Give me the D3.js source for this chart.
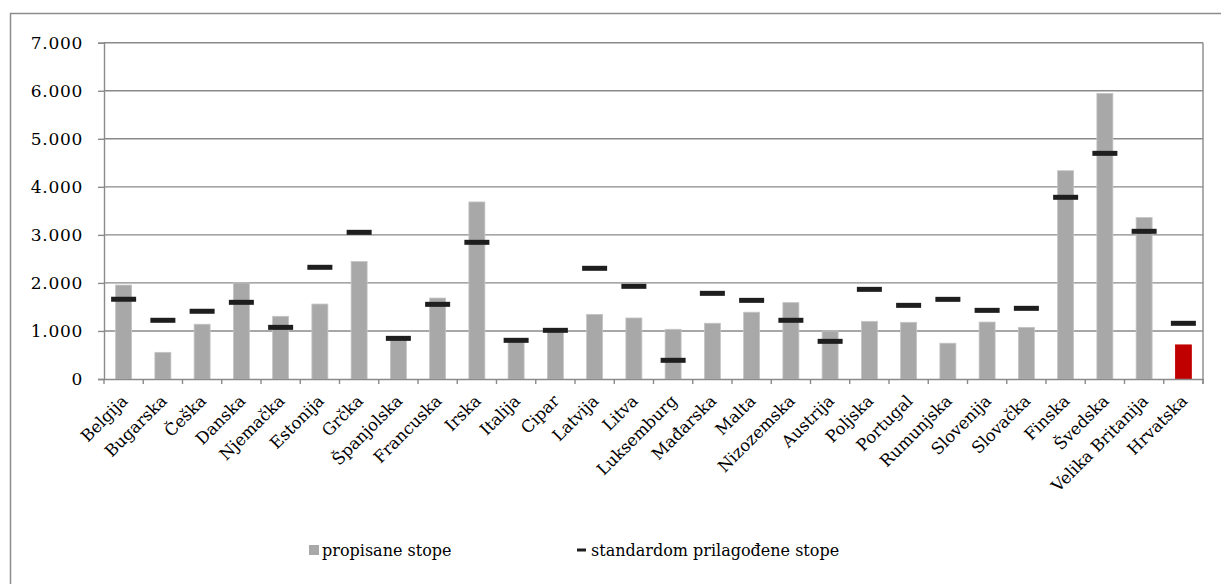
<!DOCTYPE html>
<meta charset="utf-8">
<head>
<style>
  body { margin: 0; background: #fff; }
  text { font-family: "DejaVu Serif", "Liberation Serif", serif; fill: #000; }
</style>
</head>
<body>
<script src="https://d3js.org/d3.v7.min.js"></script>
<script>
var countries = ["Belgija","Bugarska","Češka","Danska","Njemačka","Estonija","Grčka","Španjolska",
  "Francuska","Irska","Italija","Cipar","Latvija","Litva","Luksemburg","Mađarska","Malta",
  "Nizozemska","Austrija","Poljska","Portugal","Rumunjska","Slovenija","Slovačka","Finska",
  "Švedska","Velika Britanija","Hrvatska"];
var propisane = [1955,555,1140,2000,1305,1560,2445,820,1685,3685,780,980,1345,1270,1035,1160,1390,
  1590,1000,1200,1180,745,1185,1075,4335,5945,3360,710];
var prilagodjene = [1660,1222,1410,1596,1075,2325,3053,846,1554,2845,805,1013,2304,1929,389,1783,1637,
  1222,784,1866,1533,1658,1429,1471,3782,4697,3074,1159];
var yTicks = [0,1000,2000,3000,4000,5000,6000,7000];
var legendLabels = ["propisane stope","standardom prilagođene stope"];

var W = 1221, H = 584;
var margin = {top: 42.7, left: 104, right: 18, bottom: 205};

var svg = d3.select("body").append("svg")
  .attr("width", W).attr("height", H);

// outer frame
svg.append("rect")
  .attr("x", 10.5).attr("y", 13.5)
  .attr("width", W).attr("height", H)
  .attr("fill", "none").attr("stroke", "#8c8c8c").attr("stroke-width", 1.5);

var x = d3.scaleBand().domain(countries).range([margin.left, 1203]).paddingInner(0).paddingOuter(0);
var y = d3.scaleLinear().domain([0, 7000]).range([379, margin.top]);

var fmt = function(v){ return v === 0 ? "0" : d3.format(",")(v).replace(/,/g, "."); };

// gridlines
svg.append("g").selectAll("line").data(yTicks.filter(function(d){return d > 0;}))
  .join("line")
  .attr("x1", margin.left).attr("x2", 1203)
  .attr("y1", function(d){return y(d);}).attr("y2", function(d){return y(d);})
  .attr("stroke", "#8a8a8a").attr("stroke-width", 1.4);

// right border of plot
svg.append("line")
  .attr("x1", 1203).attr("x2", 1203).attr("y1", margin.top).attr("y2", 384)
  .attr("stroke", "#8a8a8a").attr("stroke-width", 1.4);

// y axis
var yAxis = svg.append("g")
  .attr("transform", "translate(" + margin.left + ",0)")
  .call(d3.axisLeft(y).tickValues(yTicks).tickSize(6).tickPadding(15).tickFormat(fmt));
yAxis.select(".domain").attr("stroke", "#8a8a8a").attr("stroke-width", 1.4);
yAxis.selectAll(".tick line").attr("stroke", "#8a8a8a").attr("stroke-width", 1.4);
yAxis.selectAll(".tick text")
  .style("font-family", "DejaVu Serif").style("font-size", "17px")
  .attr("letter-spacing", "0.7px").attr("fill", "#000");

// bars
svg.append("g").selectAll("rect").data(countries)
  .join("rect")
  .attr("x", function(d){return x(d) + x.bandwidth()/2 - 8;})
  .attr("width", 16)
  .attr("y", function(d, i){return y(propisane[i]);})
  .attr("height", function(d, i){return y(0) - y(propisane[i]);})
  .attr("fill", function(d){return d === "Hrvatska" ? "#c00000" : "#a8a8a8";})
  .attr("stroke", function(d){return d === "Hrvatska" ? "#c00000" : "#c4c4c4";})
  .attr("stroke-width", 0.8);

// x axis
var xAxis = svg.append("g")
  .attr("transform", "translate(0,379)")
  .call(d3.axisBottom(x).tickSize(0).tickFormat(""));
xAxis.select(".domain").attr("stroke", "#8a8a8a").attr("stroke-width", 1.4);
svg.append("g").selectAll("line").data(countries.concat(["__end"]))
  .join("line")
  .attr("x1", function(d, i){return margin.left + i * x.bandwidth();})
  .attr("x2", function(d, i){return margin.left + i * x.bandwidth();})
  .attr("y1", 379).attr("y2", 384)
  .attr("stroke", "#8a8a8a").attr("stroke-width", 1.4);

// x labels
svg.append("g").selectAll("text").data(countries)
  .join("text")
  .attr("transform", function(d){
    return "translate(" + (x(d) + x.bandwidth()/2 + 5) + ",402) rotate(-45)";
  })
  .attr("text-anchor", "end")
  .style("font-size", "16.5px")
  .text(function(d){return d;});

// standard-adjusted markers
svg.append("g").selectAll("rect").data(countries)
  .join("rect")
  .attr("x", function(d){return x(d) + x.bandwidth()/2 - 12.5;})
  .attr("width", 25)
  .attr("y", function(d, i){return y(prilagodjene[i]) - 2.5;})
  .attr("height", 5)
  .attr("fill", "#1e1e1e");

// legend
var lg = svg.append("g");
lg.append("rect").attr("x", 309).attr("y", 545).attr("width", 10).attr("height", 10).attr("fill", "#a8a8a8");
lg.append("text").attr("x", 322).attr("y", 556).style("font-size", "16px").text(legendLabels[0]);
lg.append("rect").attr("x", 577).attr("y", 548.5).attr("width", 9).attr("height", 3).attr("fill", "#1e1e1e");
lg.append("text").attr("x", 591).attr("y", 556).style("font-size", "16px").text(legendLabels[1]);
</script>
</body>
